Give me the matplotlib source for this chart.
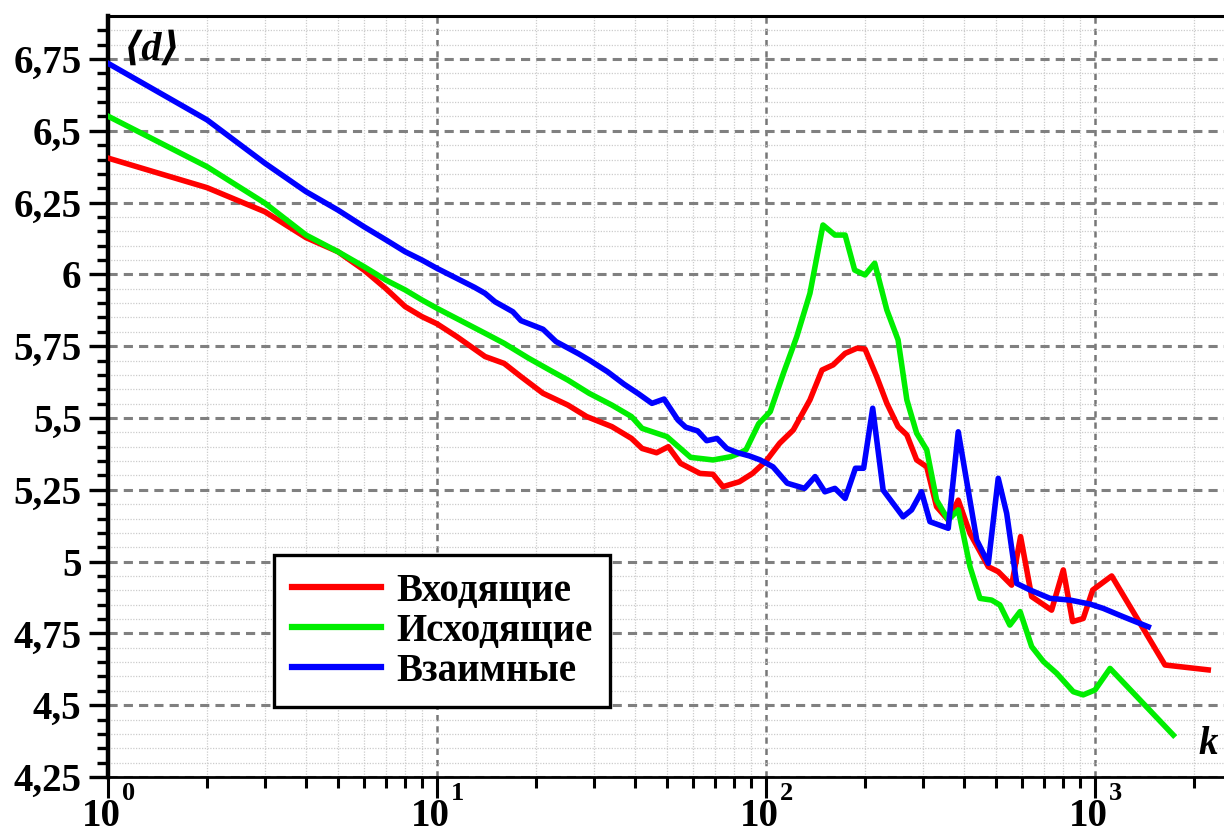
import numpy as np
import matplotlib
matplotlib.use("Agg")
import matplotlib.pyplot as plt
from matplotlib.ticker import FixedLocator, MultipleLocator, LogLocator, NullFormatter

# ---- data ----
k_in = [1, 2, 3, 4, 5, 6, 7, 8, 9, 10, 11.5, 14, 16, 18, 21, 25, 28.5, 34, 39, 42,
        46.5, 50.5, 55, 63, 69, 74, 83, 91, 100, 110, 121, 136, 148, 160, 174, 189,
        200, 217, 233, 252, 268, 287, 308, 330, 358, 384, 417, 474, 508, 558, 594,
        642, 738, 801, 855, 921, 984, 1124, 1632, 2209]
d_in = [6.405, 6.302, 6.218, 6.128, 6.079, 6.015, 5.950, 5.888, 5.853, 5.828, 5.783,
        5.714, 5.690, 5.644, 5.586, 5.545, 5.505, 5.470, 5.429, 5.394, 5.379, 5.400,
        5.342, 5.307, 5.304, 5.261, 5.278, 5.307, 5.350, 5.412, 5.458, 5.563, 5.667,
        5.685, 5.725, 5.743, 5.740, 5.644, 5.551, 5.470, 5.441, 5.354, 5.330, 5.191,
        5.145, 5.214, 5.098, 4.982, 4.965, 4.918, 5.087, 4.878, 4.831, 4.971, 4.791,
        4.802, 4.901, 4.950, 4.640, 4.623]

k_out = [1, 2, 3, 4, 5, 6, 7, 8, 9, 10, 14, 16, 19, 22, 25, 29, 34, 39, 42, 50, 59,
         69, 78, 83, 87, 95, 103, 113, 124, 136, 149, 162, 174, 186, 200, 214, 233,
         252, 268, 287, 308, 330, 358, 384, 417, 447, 485, 514, 551, 592, 642, 697,
         765, 859, 921, 1000, 1111, 1730]
d_out = [6.551, 6.375, 6.248, 6.137, 6.079, 6.027, 5.980, 5.946, 5.911, 5.882, 5.795,
         5.760, 5.708, 5.667, 5.632, 5.586, 5.545, 5.505, 5.464, 5.435, 5.363, 5.354,
         5.365, 5.377, 5.390, 5.480, 5.522, 5.656, 5.783, 5.934, 6.172, 6.137, 6.137,
         6.015, 5.998, 6.039, 5.876, 5.772, 5.563, 5.447, 5.389, 5.214, 5.145, 5.180,
         4.982, 4.872, 4.866, 4.849, 4.779, 4.826, 4.704, 4.652, 4.611, 4.547, 4.536,
         4.553, 4.628, 4.396]

k_mut = [1, 2, 3, 4, 5, 6, 7, 8, 9, 10, 13, 14, 15, 17, 18, 21, 23, 27, 29, 33, 37,
         41, 45, 49, 54, 57, 62, 66, 71, 76, 82, 89, 96, 105, 116, 131, 141, 151, 162,
         174, 187, 198, 211, 227, 261, 277, 297, 315, 358, 384, 437, 474, 508, 539,
         578, 635, 730, 840, 966, 1060, 1219, 1452]
d_mut = [6.735, 6.538, 6.387, 6.288, 6.224, 6.166, 6.120, 6.079, 6.050, 6.021, 5.955,
         5.934, 5.905, 5.870, 5.839, 5.809, 5.766, 5.723, 5.702, 5.661, 5.618, 5.584,
         5.551, 5.566, 5.493, 5.468, 5.455, 5.421, 5.429, 5.394, 5.379, 5.368, 5.354,
         5.330, 5.273, 5.255, 5.296, 5.243, 5.255, 5.220, 5.325, 5.325, 5.534, 5.249,
         5.156, 5.180, 5.243, 5.139, 5.116, 5.452, 5.075, 4.994, 5.290, 5.168, 4.924,
         4.901, 4.872, 4.866, 4.852, 4.837, 4.808, 4.773]

series_labels = ["Входящие", "Исходящие", "Взаимные"]
series_colors = ["#ff0000", "#00ee00", "#0000ff"]

y_ticks = [4.25, 4.5, 4.75, 5.0, 5.25, 5.5, 5.75, 6.0, 6.25, 6.5, 6.75]
y_ticklabels = ["4,25", "4,5", "4,75", "5", "5,25", "5,5", "5,75", "6", "6,25", "6,5", "6,75"]
x_decades = [1, 10, 100, 1000]
x_exponents = ["0", "1", "2", "3"]

# ---- figure ----
W, H = 1224, 834
fig = plt.figure(figsize=(W / 100, H / 100), dpi=100)
ax = fig.add_axes([108 / W, 1 - 777 / H, 1 - 108 / W, (777 - 16) / H])

serif = ["Liberation Serif", "DejaVu Serif"]

for kk, dd, lab, col in zip([k_in, k_out, k_mut], [d_in, d_out, d_mut],
                            series_labels, series_colors):
    ax.plot(kk, dd, color=col, lw=4.0, label=lab, solid_joinstyle="round", zorder=3)

ax.set_xscale("log")
ax.set_xlim(1, 10 ** ((W - 108) / 329))
ax.set_ylim(4.25, 4.25 + 761 / 287.2)

ax.yaxis.set_major_locator(FixedLocator(y_ticks))
ax.set_yticklabels(y_ticklabels, fontfamily=serif, fontweight="bold", fontsize=28)
ax.yaxis.set_minor_locator(MultipleLocator(0.05))
ax.xaxis.set_major_locator(FixedLocator(x_decades))
ax.xaxis.set_minor_locator(LogLocator(base=10, subs=np.arange(2, 10)))
ax.xaxis.set_major_formatter(NullFormatter())
ax.xaxis.set_minor_formatter(NullFormatter())

ax.tick_params(axis="y", which="major", length=14, width=2.4, direction="out", pad=5)
ax.tick_params(axis="y", which="minor", length=8, width=2.4, direction="out")
ax.tick_params(axis="x", which="major", length=15, width=2.2, direction="out")
ax.tick_params(axis="x", which="minor", length=8, width=2.2, direction="out")

# grid
ax.grid(which="minor", color="#cccccc", linestyle=(0, (1, 1.2)), lw=0.9, zorder=0)
ax.grid(which="major", axis="y", color="#808080", linestyle=(0, (3, 2)), lw=2.2, zorder=1)
ax.grid(which="major", axis="x", color="#777777", linestyle=(0, (2.5, 2)), lw=1.8, zorder=1)
ax.set_axisbelow(True)

ax.spines["left"].set_linewidth(3.2)
ax.spines["bottom"].set_linewidth(2)
ax.spines["top"].set_linewidth(2.2)
ax.spines["right"].set_visible(False)

# x tick labels as 10 with raised exponent
for xd, ex in zip(x_decades, x_exponents):
    ax.annotate("10", xy=(xd, 0), xycoords=("data", "axes fraction"),
                xytext=(-4.5, -41.5), textcoords="offset points",
                ha="center", va="bottom", fontfamily=serif, fontweight="bold",
                fontsize=28, annotation_clip=False)
    ax.annotate(ex, xy=(xd, 0), xycoords=("data", "axes fraction"),
                xytext=(14.5, -16.5), textcoords="offset points",
                ha="center", va="baseline", fontfamily=serif, fontweight="bold",
                fontsize=19, annotation_clip=False)

# axis labels
fig.text(152 / W, 1 - 50 / H, "⟨d⟩", fontfamily=serif, fontstyle="italic",
         fontweight="bold", fontsize=29, ha="center", va="center")
fig.text(1208 / W, 1 - 745 / H, "k", fontfamily=serif, fontstyle="italic",
         fontweight="bold", fontsize=28, ha="center", va="center")

leg = ax.legend(loc="upper left", bbox_to_anchor=(274 / W, 1 - 555 / H),
                bbox_transform=fig.transFigure, borderaxespad=0,
                prop={"family": serif, "weight": "bold", "size": 28},
                handlelength=2.3, handletextpad=0.4, labelspacing=0.08,
                borderpad=0.45, fancybox=False, framealpha=1, edgecolor="black")
leg.get_frame().set_linewidth(2.4)
for line in leg.get_lines():
    line.set_linewidth(4.5)

fig.savefig("out.png", dpi=100)
